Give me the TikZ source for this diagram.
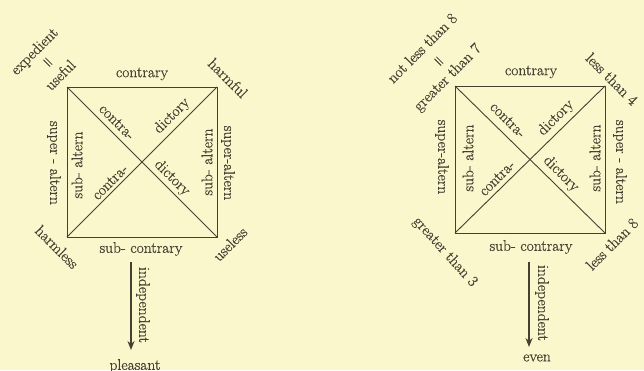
\documentclass[tikz,border=0pt]{standalone}
\usepackage{fontspec}
\newfontfamily\diafont{Latin Modern Roman}[FakeBold=0.7]
\usetikzlibrary{arrows.meta}
\definecolor{bg}{RGB}{250,247,205}
\definecolor{ink}{RGB}{70,64,50}
\begin{document}
\begin{tikzpicture}[x=1pt,y=1pt,
  lbl/.style={text=ink,inner sep=0pt,font=\diafont\fontsize{15.5}{18}\selectfont},
  sq/.style={draw=ink,line width=0.9pt},
  arr/.style={draw=ink,-{Stealth[length=9pt,width=7pt]}}]
\fill[bg] (0,0) rectangle (644,-370);
\useasboundingbox (0,0) rectangle (644,-370);
% ---------- left square
\coordinate (L1) at (67,-87);
\coordinate (L2) at (217,-87);
\coordinate (L3) at (217,-237);
\coordinate (L4) at (67,-237);
\draw[sq] (L1) -- (L2) -- (L3) -- (L4) -- cycle;
\draw[sq] (L1) -- (L3);
\draw[sq] (L4) -- (L2);
\node[lbl] (lc) at (142,-74) {contrary};
\node[lbl] (lsc) at (141,-249) {sub- contrary};
\node[lbl,rotate=-90] (lso) at (54,-163) {super - altern};
\node[lbl,rotate=90] (lsi) at (77,-165) {sub- altern};
\node[lbl,rotate=90] (rsi) at (207,-162) {sub- altern};
\node[lbl,rotate=-90] (rso) at (228,-163) {super-altern};
\node[lbl,rotate=-45] (lcul) at (117,-122) {contra-};
\node[lbl,rotate=45] (ldur) at (172,-116) {dictory};
\node[lbl,rotate=45] (lcll) at (110,-182) {contra-};
\node[lbl,rotate=-45] (ldlr) at (172,-178) {dictory};
\node[lbl,rotate=45] (lexp) at (35,-52) {expedient};
\node[lbl,rotate=-45] (leq) at (47,-63) {=};
\node[lbl,rotate=45] (luse) at (60,-75) {useful};
\node[lbl,rotate=-45] (lharm) at (228,-78) {harmful};
\node[lbl,rotate=-45] (lharml) at (57,-247) {harmless};
\node[lbl,rotate=45] (luseless) at (230,-244) {useless};
\node[lbl,rotate=-90] (lind) at (143,-305) {independent};
\node[lbl] (lpl) at (135,-366) {pleasant};
\coordinate (la) at (131,-262);
\coordinate (lb) at (131,-350);
\draw[arr,line width=2pt] (la) -- (lb);
% ---------- right square
\coordinate (R1) at (455,-86);
\coordinate (R2) at (605,-86);
\coordinate (R3) at (605,-233);
\coordinate (R4) at (455,-233);
\draw[sq] (R1) -- (R2) -- (R3) -- (R4) -- cycle;
\draw[sq] (R1) -- (R3);
\draw[sq] (R4) -- (R2);
\node[lbl] (rc) at (531,-72) {contrary};
\node[lbl] (rsc) at (531,-247) {sub- contrary};
\node[lbl,rotate=-90] (rlso) at (442,-157) {super-altern};
\node[lbl,rotate=90] (rlsi) at (468,-158) {sub- altern};
\node[lbl,rotate=90] (rrsi) at (595,-158) {sub- altern};
\node[lbl,rotate=-90] (rrso) at (620,-162) {super - altern};
\node[lbl,rotate=-45] (rcul) at (508,-120) {contra-};
\node[lbl,rotate=45] (rdur) at (556,-118) {dictory};
\node[lbl,rotate=45] (rcll) at (497,-178) {contra-};
\node[lbl,rotate=-45] (rdlr) at (561,-174) {dictory};
\node[lbl,rotate=45] (rnl) at (422,-48) {not less than 8};
\node[lbl,rotate=-45] (req) at (438,-62) {=};
\node[lbl,rotate=45] (rg7) at (448,-78) {greater than 7};
\node[lbl,rotate=-45] (rl4) at (612,-79) {less than 4};
\node[lbl,rotate=-48] (rg3) at (445,-252) {greater than 3};
\node[lbl,rotate=45] (rl8) at (612,-244) {less than 8};
\node[lbl,rotate=-90] (rind) at (542,-303) {independent};
\node[lbl] (rev) at (537,-358) {even};
\coordinate (ra) at (529,-262);
\coordinate (rb) at (529,-347);
\draw[arr,line width=1.3pt] (ra) -- (rb);
\end{tikzpicture}
\end{document}
